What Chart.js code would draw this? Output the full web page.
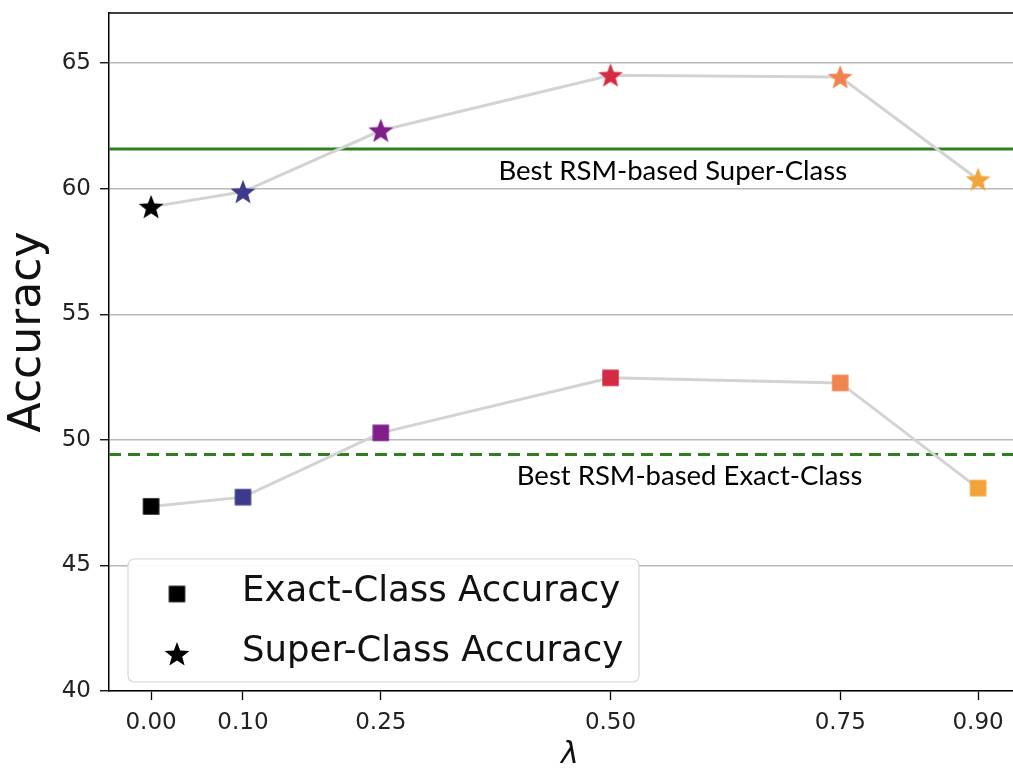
<!DOCTYPE html>
<html><head><meta charset="utf-8">
<script src="https://cdn.jsdelivr.net/npm/chart.js@4"></script>
<style>html,body{margin:0;padding:0;background:#fff;overflow:hidden}#wrap{width:1013px;height:773px;position:relative}</style>
</head><body><div id="wrap"><canvas id="c" width="1013" height="773"></canvas></div>
<script>
// ---- data ----
const lambdas = [0.00, 0.10, 0.25, 0.50, 0.75, 0.90];
const exactAcc = [47.35, 47.72, 50.28, 52.47, 52.27, 48.08];
const superAcc = [59.28, 59.88, 62.32, 64.52, 64.45, 60.37];
const pointColors = ['#000000', '#3d3a8c', '#7e1f8a', '#d42a44', '#ef844f', '#f2a43a'];
const bestSuper = 61.58;
const bestExact = 49.42;
const xTickValues = [0.00, 0.10, 0.25, 0.50, 0.75, 0.90];
const yTickValues = [40, 45, 50, 55, 60, 65];
const legendLabels = ['Exact-Class Accuracy', 'Super-Class Accuracy'];
const refLabels = ['Best RSM-based Super-Class', 'Best RSM-based Exact-Class'];
const xTitle = 'λ';
const yTitle = 'Accuracy';

const X_MIN = -0.0458, X_MAX = 0.938, Y_MIN = 40, Y_MAX = 67.0;

function starCanvas(color, R) {
  const s = Math.ceil(R * 2 + 4);
  const c = document.createElement('canvas');
  c.width = s; c.height = s;
  const g = c.getContext('2d');
  g.beginPath();
  for (let i = 0; i < 10; i++) {
    const a = -Math.PI / 2 + i * Math.PI / 5;
    const r = (i % 2) ? R * 0.42 : R;
    const px = s / 2 + r * Math.cos(a), py = s / 2 + 1 + r * Math.sin(a);
    if (i === 0) g.moveTo(px, py); else g.lineTo(px, py);
  }
  g.closePath();
  g.fillStyle = color; g.fill();
  return c;
}
function squareCanvas(color, side) {
  const s = Math.ceil(side + 2);
  const c = document.createElement('canvas');
  c.width = s; c.height = s;
  const g = c.getContext('2d');
  g.fillStyle = color;
  g.fillRect((s - side) / 2, (s - side) / 2, side, side);
  return c;
}
const starImgs = pointColors.map(c => starCanvas(c, 13));
const squareImgs = pointColors.map(c => squareCanvas(c, 16.5));

const exactPts = lambdas.map((x, i) => ({x, y: exactAcc[i]}));
const superPts = lambdas.map((x, i) => ({x, y: superAcc[i]}));

const GREEN = '#2f7f1f';

const overlay = {
  id: 'overlay',
  afterDraw(chart) {
    const {ctx, chartArea: a, scales: {x, y}} = chart;
    ctx.save();
    // top spine
    ctx.strokeStyle = '#000'; ctx.lineWidth = 1.5;
    ctx.beginPath(); ctx.moveTo(a.left, a.top); ctx.lineTo(a.right, a.top); ctx.stroke();
    // axis titles
    ctx.fillStyle = '#111';
    ctx.textBaseline = 'middle'; ctx.textAlign = 'center';
    ctx.font = 'italic 30px "DejaVu Sans", sans-serif';
    ctx.fillText(xTitle, 570, 755);
    ctx.save();
    ctx.translate(29, 332); ctx.rotate(-Math.PI / 2);
    ctx.font = '44px "DejaVu Sans", sans-serif';
    ctx.fillText(yTitle, 0, 0);
    ctx.restore();
    // reference labels
    ctx.fillStyle = '#000';
    ctx.font = '27.5px Lato, "Open Sans", sans-serif';
    ctx.textBaseline = 'middle'; ctx.textAlign = 'left';
    ctx.fillText(refLabels[0], x.getPixelForValue(0.378), y.getPixelForValue(60.69));
    ctx.fillText(refLabels[1], x.getPixelForValue(0.398), y.getPixelForValue(48.55));
    // legend
    const bx = 128, by = 559, bw = 511, bh = 123, r = 7;
    ctx.beginPath();
    ctx.moveTo(bx + r, by); ctx.lineTo(bx + bw - r, by); ctx.quadraticCurveTo(bx + bw, by, bx + bw, by + r);
    ctx.lineTo(bx + bw, by + bh - r); ctx.quadraticCurveTo(bx + bw, by + bh, bx + bw - r, by + bh);
    ctx.lineTo(bx + r, by + bh); ctx.quadraticCurveTo(bx, by + bh, bx, by + bh - r);
    ctx.lineTo(bx, by + r); ctx.quadraticCurveTo(bx, by, bx + r, by);
    ctx.closePath();
    ctx.fillStyle = 'rgba(255,255,255,0.92)'; ctx.fill();
    ctx.strokeStyle = '#d6d6d6'; ctx.lineWidth = 1.2; ctx.stroke();
    const sq = squareCanvas('#000', 16.5), st = starCanvas('#000', 13);
    ctx.drawImage(sq, 177 - sq.width / 2, 594 - sq.height / 2);
    ctx.drawImage(st, 177 - st.width / 2, 654 - st.height / 2);
    ctx.fillStyle = '#111';
    ctx.font = '35.5px "DejaVu Sans", sans-serif';
    ctx.fillText(legendLabels[0], 242, 592);
    ctx.fillText(legendLabels[1], 242, 652);
    ctx.restore();
  }
};

new Chart(document.getElementById('c'), {
  type: 'scatter',
  data: {
    datasets: [
      {
        label: 'super', data: superPts, showLine: true, order: 1,
        borderColor: '#d3d3d3', borderWidth: 3,
        pointStyle: starImgs, pointBackgroundColor: pointColors, pointRadius: 13
      },
      {
        label: 'exact', data: exactPts, showLine: true, order: 1,
        borderColor: '#d3d3d3', borderWidth: 3,
        pointStyle: squareImgs, pointBackgroundColor: pointColors, pointRadius: 10
      },
      {
        label: 'bestSuper', data: [{x: X_MIN, y: bestSuper}, {x: X_MAX, y: bestSuper}],
        showLine: true, order: 5, borderColor: GREEN, borderWidth: 3, pointRadius: 0
      },
      {
        label: 'bestExact', data: [{x: X_MIN, y: bestExact}, {x: X_MAX, y: bestExact}],
        showLine: true, order: 5, borderColor: GREEN, borderWidth: 3, borderDash: [12, 7], pointRadius: 0
      }
    ]
  },
  options: {
    responsive: false, animation: false,
    layout: {autoPadding: false, padding: {top: 13, left: 0, right: 0, bottom: 0}},
    plugins: {legend: {display: false}, tooltip: {enabled: false}},
    scales: {
      x: {
        type: 'linear', min: X_MIN, max: X_MAX,
        afterBuildTicks: s => { s.ticks = xTickValues.map(v => ({value: v})); },
        afterFit: s => { s.height = 82; s.paddingLeft = 0; s.paddingRight = 0; },
        ticks: {
          callback: v => Number(v).toFixed(2),
          font: {family: 'DejaVu Sans', size: 23}, color: '#222', padding: 9, maxRotation: 0, autoSkip: false
        },
        grid: {drawOnChartArea: false, drawTicks: true, tickLength: 9, tickColor: '#000', tickWidth: 1.3},
        border: {color: '#000', width: 1.5},
        title: {display: false}
      },
      y: {
        min: Y_MIN, max: Y_MAX,
        afterBuildTicks: s => { s.ticks = yTickValues.map(v => ({value: v})); },
        afterFit: s => { s.width = 109; s.paddingTop = 0; s.paddingBottom = 0; },
        ticks: {font: {family: 'DejaVu Sans', size: 23}, color: '#222', padding: 9},
        grid: {color: '#b8b8b8', lineWidth: 1.5, drawTicks: true, tickLength: 9, tickColor: '#000', tickWidth: 1.3},
        border: {color: '#000', width: 1.5},
        title: {display: false}
      }
    }
  },
  plugins: [overlay]
});
</script></body></html>
